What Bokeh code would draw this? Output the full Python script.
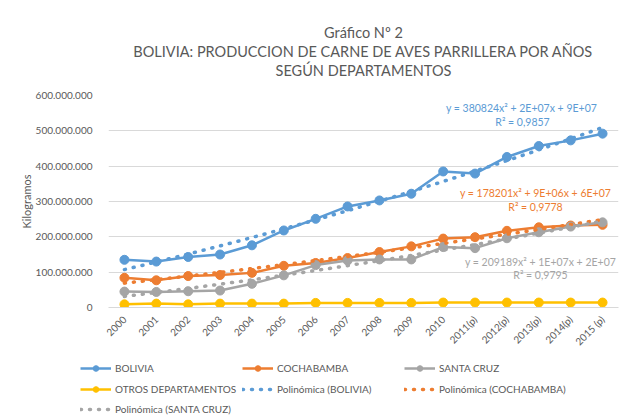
import numpy as np
from bokeh.plotting import figure
from bokeh.layouts import column, row
from bokeh.models import (Range1d, FixedTicker, Legend, LegendItem, Label, Title)
from bokeh.embed import file_html
from bokeh.resources import INLINE

# ---------------- data ----------------
years = ["2000", "2001", "2002", "2003", "2004", "2005", "2006", "2007", "2008",
         "2009", "2010", "2011(p)", "2012(p)", "2013(p)", "2014(p)", "2015 (p)"]
bolivia = [135e6, 130e6, 143e6, 150e6, 176e6, 218e6, 251e6, 286e6, 303e6,
           322e6, 385e6, 379e6, 426e6, 457e6, 473e6, 492e6]
cochabamba = [84e6, 77e6, 89e6, 92e6, 98e6, 118e6, 126e6, 140e6, 157e6,
              173e6, 195e6, 199e6, 217e6, 227e6, 232e6, 234e6]
santa_cruz = [45e6, 44e6, 46e6, 48e6, 67e6, 91e6, 120e6, 133e6, 136e6,
              136e6, 171e6, 168e6, 196e6, 213e6, 229e6, 241e6]
otros = [9e6, 11e6, 9e6, 11e6, 11e6, 11e6, 13e6, 13e6, 13e6,
         13e6, 14e6, 14e6, 14e6, 14e6, 14e6, 14e6]
y_ticks = [0, 100e6, 200e6, 300e6, 400e6, 500e6, 600e6]
y_tick_labels = ["0", "100.000.000", "200.000.000", "300.000.000",
                 "400.000.000", "500.000.000", "600.000.000"]
title_lines = ["Gráfico Nº 2",
               "BOLIVIA: PRODUCCION DE CARNE DE AVES PARRILLERA POR AÑOS",
               "SEGÚN DEPARTAMENTOS"]
eq_bolivia = ["y = 380824x² + 2E+07x + 9E+07", "R² = 0,9857"]
eq_cochabamba = ["y = 178201x² + 9E+06x + 6E+07", "R² = 0,9778"]
eq_santa_cruz = ["y = 209189x² + 1E+07x + 2E+07", "R² = 0,9795"]

x = np.arange(1, len(years) + 1)

BLUE = "#5B9BD5"
ORANGE = "#ED7D31"
GRAY = "#A5A5A5"
YELLOW = "#FFC000"
TXT = "#595959"
FONT = "Lato"

W = 627
H_MAIN, H_LEG = 355, 63
FL, FT, FR, FB = 108, 95, 618, 307  # frame edges (page coords)

p = figure(width=W, height=H_MAIN, output_backend="svg", toolbar_location=None,
           x_range=Range1d(0.5, len(years) + 0.5), y_range=Range1d(0, 600e6),
           min_border_left=FL, min_border_right=W - FR,
           min_border_top=FT, min_border_bottom=H_MAIN - FB)
p.title.visible = False
p.outline_line_color = None
p.background_fill_color = "white"
p.border_fill_color = "white"

# spacer + titles (added nearest-first)
p.add_layout(Title(text=" ", text_font_size="13px", standoff=0), "above")
for t in reversed(title_lines):
    p.add_layout(Title(text=t, align="center", offset=-43,
                       text_font=FONT, text_font_size="14.5px",
                       text_font_style="normal", text_color=TXT,
                       standoff=0), "above")

# axes
p.xaxis.ticker = FixedTicker(ticks=list(x))
p.xaxis.major_label_overrides = {int(i): s for i, s in zip(x, years)}
p.xaxis.major_label_orientation = np.pi / 4
p.xaxis.axis_line_color = "#D9D9D9"
p.xaxis.major_tick_line_color = None
p.xaxis.minor_tick_line_color = None
p.xaxis.major_label_text_font = FONT
p.xaxis.major_label_text_font_size = "10px"
p.xaxis.major_label_text_color = TXT
p.xaxis.major_label_standoff = 4

p.yaxis.ticker = FixedTicker(ticks=y_ticks)
p.yaxis.major_label_overrides = {int(t): s for t, s in zip(y_ticks, y_tick_labels)}
p.yaxis.axis_line_color = None
p.yaxis.major_tick_line_color = None
p.yaxis.minor_tick_line_color = None
p.yaxis.major_label_text_font = FONT
p.yaxis.major_label_text_font_size = "10px"
p.yaxis.major_label_text_color = TXT
p.yaxis.major_label_standoff = 10
p.yaxis.axis_label = "Kilogramos"
p.yaxis.axis_label_text_font = FONT
p.yaxis.axis_label_text_font_size = "11px"
p.yaxis.axis_label_text_font_style = "normal"
p.yaxis.axis_label_text_color = TXT
p.yaxis.axis_label_standoff = 0

p.xgrid.grid_line_color = None
p.ygrid.grid_line_color = "#D9D9D9"
p.ygrid.grid_line_width = 1

# series
series = [("BOLIVIA", bolivia, BLUE), ("COCHABAMBA", cochabamba, ORANGE),
          ("SANTA CRUZ", santa_cruz, GRAY), ("OTROS DEPARTAMENTOS", otros, YELLOW)]
for name, vals, col in series:
    p.line(x, vals, line_color=col, line_width=2.5)
    p.scatter(x, vals, size=9, fill_color=col, line_color=col)

# polynomial trendlines (least-squares fit of the series above)
fits = {}
for name, vals, col in series[:3]:
    coef = np.polyfit(x, np.array(vals), 2)
    xs = np.linspace(1, len(years), 200)
    fits[name] = (xs, np.polyval(coef, xs))
    p.line(xs, fits[name][1], line_color=col, line_width=3.5,
           line_dash="1 8", line_cap="round")


# helpers converting page pixel coords to data coords
def dx(px):
    return 0.5 + (px - FL) / (FR - FL) * len(years)


def dy(py):
    return (FB - py) / (FB - FT) * 600e6


def add_text(txt, px, py, col, size):
    p.add_layout(Label(x=dx(px), y=dy(py), text=txt, text_color=col,
                       text_font=FONT, text_font_size=size, text_align="center",
                       text_baseline="middle"))


# trendline equations
add_text(eq_bolivia[0], 521, 107, BLUE, "10.5px")
add_text(eq_bolivia[1], 522, 121, BLUE, "10.5px")
add_text(eq_cochabamba[0], 535, 192, ORANGE, "10.5px")
add_text(eq_cochabamba[1], 535, 206, ORANGE, "10.5px")
add_text(eq_santa_cruz[0], 540, 261, GRAY, "10.5px")
add_text(eq_santa_cruz[1], 540, 274, GRAY, "10.5px")

# ---------------- legend strip ----------------
# same series drawn again, but outside this strip's visible range; they only
# feed the legend glyphs
q = figure(width=W, height=H_LEG, output_backend="svg", toolbar_location=None,
           x_range=Range1d(100, 101), y_range=Range1d(0, 1),
           x_axis_type=None, y_axis_type=None, min_border=0)
q.title.visible = False
q.outline_line_color = None
q.grid.visible = False

leg = {}
for name, vals, col in series:
    leg[name] = [q.line(x, vals, line_color=col, line_width=2.5),
                 q.scatter(x, vals, size=9, fill_color=col, line_color=col)]
for name, vals, col in series[:3]:
    leg["Polinómica (%s)" % name] = [q.line(fits[name][0], fits[name][1],
                                            line_color=col, line_width=3.5,
                                            line_dash="1 8", line_cap="round")]

rows = [["BOLIVIA", "COCHABAMBA", "SANTA CRUZ"],
        ["OTROS DEPARTAMENTOS", "Polinómica (BOLIVIA)", "Polinómica (COCHABAMBA)"],
        ["Polinómica (SANTA CRUZ)"]]
row_centers = [368 - H_MAIN, 389 - H_MAIN, 409 - H_MAIN]
for names, cy in zip(rows, row_centers):
    lg = Legend(items=[LegendItem(label=n, renderers=leg[n]) for n in names],
                orientation="horizontal", location=(80, H_LEG - (cy + 7)),
                glyph_width=31, glyph_height=14, label_height=14,
                label_width=127, label_standoff=4, spacing=0, padding=0,
                margin=0, border_line_color=None, background_fill_alpha=0,
                label_text_font=FONT, label_text_font_size="10px",
                label_text_color=TXT)
    q.add_layout(lg, "center")

open("out.html", "w").write(file_html(column(p, row(q), spacing=0), INLINE))
